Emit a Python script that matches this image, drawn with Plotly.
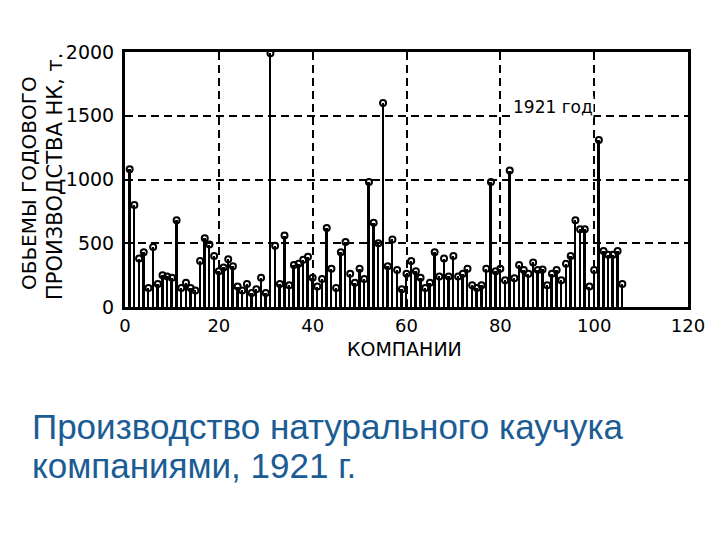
import plotly.graph_objects as go

companies = list(range(1, 107))
volumes = [
    1080, 800, 380, 430, 150, 470, 180, 250, 240, 230,
    680, 150, 190, 150, 130, 360, 540, 490, 400, 280,
    310, 375, 320, 160, 130, 180, 110, 140, 230, 110,
    1990, 480, 180, 560, 170, 330, 340, 370, 395, 230,
    160, 220, 620, 300, 150, 430, 510, 260, 190, 300,
    220, 980, 660, 500, 1600, 320, 530, 290, 140, 260,
    360, 280, 230, 150, 190, 430, 240, 380, 240, 400,
    240, 260, 300, 170, 150, 170, 300, 980, 280, 300,
    210, 1070, 225, 330, 290, 260, 350, 290, 295, 170,
    260, 290, 210, 340, 400, 680, 610, 610, 160, 290,
    1310, 440, 410, 410, 440, 180,
]
x_ticks = [0, 20, 40, 60, 80, 100, 120]
y_ticks = [0, 500, 1000, 1500, 2000]

CHART_FONT = "DejaVu Sans, sans-serif"
CAPTION_FONT = "Liberation Sans, Arial, sans-serif"
CAPTION_COLOR = "#1b5c94"

fig = go.Figure()
fig.add_trace(go.Bar(
    x=companies, y=volumes, width=0.42,
    marker=dict(color="black", line=dict(width=0)),
    showlegend=False,
))
fig.add_trace(go.Scatter(
    x=companies, y=volumes, mode="markers",
    marker=dict(symbol="circle-open", size=6, color="black", line=dict(width=2, color="black")),
    showlegend=False, cliponaxis=False,
))

axis_common = dict(
    showline=True, mirror=True, linecolor="black", linewidth=3,
    showgrid=True, gridcolor="black", gridwidth=2, griddash="8px,5px",
    zeroline=False, ticks="",
)
fig.update_xaxes(range=[0, 120], tickvals=x_ticks,
                 tickfont=dict(family=CHART_FONT, size=18, color="black"), **axis_common)
fig.update_yaxes(range=[0, 2000], tickvals=y_ticks, ticklabelstandoff=4,
                 tickfont=dict(family=CHART_FONT, size=19, color="black"), **axis_common)

fig.add_annotation(x=91.3, y=1565, xref="x", yref="y", text="1921 год", showarrow=False,
                   font=dict(family=CHART_FONT, size=17, color="black"), bgcolor="white", borderpad=0)

fig.add_annotation(x=0.497, y=-0.163, xref="paper", yref="paper", text="КОМПАНИИ", showarrow=False,
                   font=dict(family=CHART_FONT, size=19, color="black"), xanchor="center", yanchor="middle")
fig.add_annotation(x=-0.1705, y=0.486, xref="paper", yref="paper", text="ОБЬЕМЫ ГОДОВОГО", showarrow=False,
                   textangle=-90, font=dict(family=CHART_FONT, size=20, color="black"),
                   xanchor="center", yanchor="middle")
fig.add_annotation(x=-0.1243, y=0.51, xref="paper", yref="paper", text="ПРОИЗВОДСТВА НК, т.", showarrow=False,
                   textangle=-90, font=dict(family=CHART_FONT, size=21, color="black"),
                   xanchor="center", yanchor="middle")

fig.add_annotation(x=-0.1687, y=-0.468, xref="paper", yref="paper",
                   text="Производство натурального каучука",
                   showarrow=False, align="left", xanchor="left", yanchor="middle",
                   font=dict(family=CAPTION_FONT, size=35, color=CAPTION_COLOR))
fig.add_annotation(x=-0.1687, y=-0.621, xref="paper", yref="paper",
                   text="компаниями, 1921 г.",
                   showarrow=False, align="left", xanchor="left", yanchor="middle",
                   font=dict(family=CAPTION_FONT, size=35, color=CAPTION_COLOR))

fig.update_layout(
    width=720, height=540,
    margin=dict(l=117, r=40, t=44, b=241),
    plot_bgcolor="white", paper_bgcolor="white",
    bargap=0,
)
fig.write_html("out.html")
